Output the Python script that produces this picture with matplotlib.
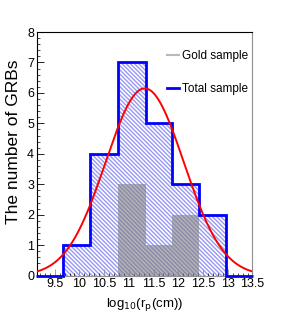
import numpy as np
import matplotlib.pyplot as plt

plt.rcParams['font.family'] = ['Liberation Sans Narrow', 'Liberation Sans', 'DejaVu Sans']
plt.rcParams['mathtext.fontset'] = 'custom'
plt.rcParams['mathtext.rm'] = 'Liberation Sans Narrow'
plt.rcParams['hatch.linewidth'] = 1.0

# histogram bins (log10 r_p), counts for the total and gold samples
bin_edges = [9.12, 9.67, 10.22, 10.78, 11.34, 11.87, 12.41, 12.97, 13.52]
total_counts = [0, 1, 4, 7, 5, 3, 2, 0]
gold_counts = [0, 0, 0, 3, 1, 2, 0, 0]

# gaussian fit to the total sample
fit_amp = 6.15
fit_mean = 11.32
fit_sigma = 0.79

fig = plt.figure(figsize=(2.84, 3.27), dpi=100)
ax = fig.add_axes([0.130, 0.157, 0.759, 0.745])

edges = np.array(bin_edges)
left = edges[:-1]
width = np.diff(edges)

# total sample: hatched fill + blue step outline
ax.bar(left, total_counts, width=width, align='edge', color='none',
       edgecolor='#9898f4', hatch='\\' * 8, linewidth=0, zorder=1)
ax.stairs(total_counts, edges, color='#0000ff', linewidth=2.0, zorder=3,
          label='Total sample', clip_on=False)

# gold sample: gray fill
ax.bar(left, gold_counts, width=width, align='edge', color='#808080',
       alpha=0.6, linewidth=0, zorder=2)
ax.plot([], [], color='#c0b8b0', linewidth=1.5, label='Gold sample')

xs = np.linspace(9.14, 13.5, 300)
ax.plot(xs, fit_amp * np.exp(-(xs - fit_mean) ** 2 / (2 * fit_sigma ** 2)),
        color='#ff0000', linewidth=1.4, zorder=4)

ax.set_xlim(9.14, 13.5)
ax.set_ylim(0, 8)
ax.set_xticks(np.arange(9.5, 13.51, 0.5))
ax.set_xticklabels(['9.5', '10', '10.5', '11', '11.5', '12', '12.5', '13', '13.5'])
ax.set_yticks(range(0, 9))
ax.set_yticks(np.arange(0, 8.01, 0.2), minor=True)
ax.set_xticks(np.arange(9.2, 13.51, 0.1), minor=True)
ax.tick_params(axis='both', which='major', direction='in', labelsize=9,
               length=5, width=0.6, pad=2)
ax.tick_params(axis='both', which='minor', direction='in', length=2.5, width=0.5)
ax.tick_params(axis='x', colors='#909090', labelcolor='black')

for side in ['right', 'bottom']:
    ax.spines[side].set_color('#909090')
for side in ['top', 'left']:
    ax.spines[side].set_color('black')
for s in ax.spines.values():
    s.set_linewidth(0.8)

ax.set_xlabel(r'log$_{10}$(r$_{\rm p}$(cm))', fontsize=9.5, labelpad=4)
ax.set_ylabel('The number of GRBs', fontsize=12.5,
              family=['Liberation Sans', 'DejaVu Sans'])
ax.yaxis.set_label_coords(-0.075, 0.55)

handles, labels = ax.get_legend_handles_labels()
ax.legend(handles[::-1], labels[::-1], loc='upper right',
          bbox_to_anchor=(1.03, 0.97), frameon=False, fontsize=8.5,
          handlelength=1.0, handletextpad=0.3, labelspacing=1.8)

fig.savefig('out.png', dpi=100)
